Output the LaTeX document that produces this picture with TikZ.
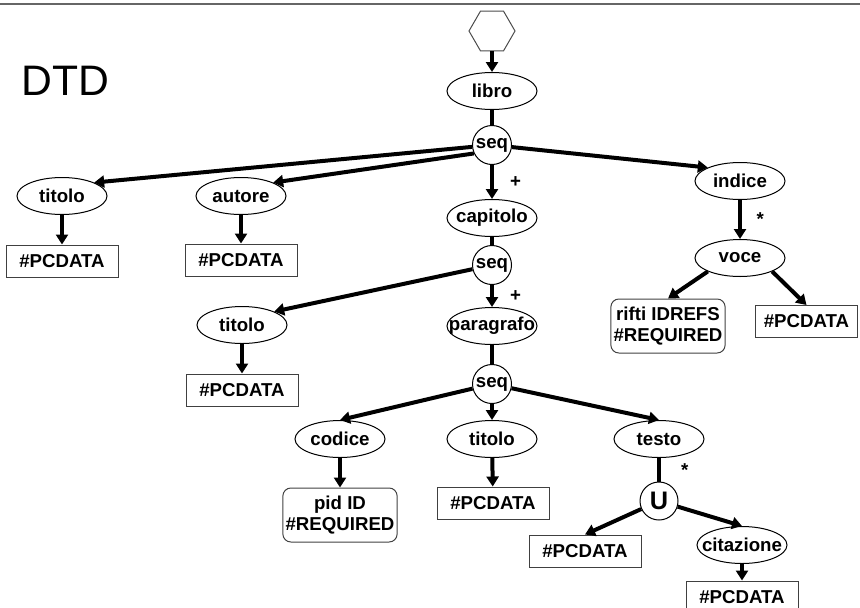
\documentclass[tikz,border=0pt]{standalone}
\usepackage{fontspec}
\setmainfont{Liberation Sans}
\usetikzlibrary{shapes,arrows.meta}

\begin{document}
\begin{tikzpicture}[x=0.75pt,y=-0.75pt,
  nfont/.style={font=\bfseries\fontsize{14}{16.3}\selectfont},
  elem/.style={nfont, ellipse, draw, line width=0.75pt, minimum width=67.5pt, minimum height=27.75pt, inner xsep=-8.5pt, inner ysep=0pt},
  cnt/.style={nfont, circle, draw, line width=0.75pt, minimum size=29.25pt, inner sep=0pt},
  alt/.style={cnt, font=\bfseries\fontsize{19}{22}\selectfont, minimum size=28.5pt},
  leaf/.style={nfont, rectangle, draw=black!75, line width=0.75pt, minimum width=84pt, minimum height=24pt},
  attr/.style={leaf, rounded corners=6pt, align=center, minimum width=85pt, minimum height=40.5pt, inner xsep=2pt},
  root/.style={regular polygon, regular polygon sides=6, draw=black!70, line width=0.75pt, minimum size=34.5pt, inner sep=0pt},
  arr/.style={-{Triangle[length=7.5pt,width=9pt]}, line width=3pt},
  ln/.style={line width=3pt},
  pm/.style={nfont, inner sep=0pt}]
\useasboundingbox (0,0) rectangle (860,607);
\draw[black!60, line width=1pt] (0,4) -- (860,4);
\node[anchor=base west, font=\fontsize{32}{36}\selectfont] (title) at (17,95) {DTD};

% nodes
\node[root] (doc) at (492,31) {};
\node[elem] (libro) at (492,91) {libro};
\node[cnt] (seqA) at (492,145) {seq};
\node[elem] (titoloA) at (62,196) {titolo};
\node[elem] (autore) at (241,196) {autore};
\node[elem] (capitolo) at (492,218) {capitolo};
\node[elem] (indice) at (740,181) {indice};
\node[leaf] (pcTitoloA) at (62,261) {\#PCDATA};
\node[leaf] (pcAutore) at (241,260) {\#PCDATA};
\node[cnt] (seqB) at (492,265) {seq};
\node[elem] (voce) at (740,258) {voce};
\node[attr] (rifti) at (668,326) {rifti IDREFS\\\#REQUIRED};
\node[leaf, minimum width=77pt] (pcVoce) at (806.5,321.5) {\#PCDATA};
\node[elem] (titoloB) at (242,325) {titolo};
\node[elem] (paragrafo) at (492,326) {paragrafo};
\node[leaf] (pcTitoloB) at (242,390) {\#PCDATA};
\node[cnt] (seqC) at (492,384) {seq};
\node[elem] (codice) at (340,439) {codice};
\node[elem] (titoloC) at (492,439) {titolo};
\node[elem] (testo) at (659,439) {testo};
\node[attr] (pid) at (340,515) {pid ID\\\#REQUIRED};
\node[leaf] (pcTitoloC) at (493,503) {\#PCDATA};
\node[alt] (union) at (659,501) {U};
\node[leaf] (pcTesto) at (585,551) {\#PCDATA};
\node[elem] (citazione) at (742,545) {citazione};
\node[leaf] (pcCitazione) at (742,597) {\#PCDATA};

% edges
\draw[arr] (doc) -- (libro);
\draw[ln] (libro) -- (seqA);
\draw[arr] (seqA) -- (titoloA.north east);
\draw[arr] (seqA.205) -- (autore.north east);
\draw[arr] (seqA) -- node[pm, right=12pt] {+} (capitolo);
\draw[arr] (seqA) -- (indice.north west);
\draw[arr] (titoloA) -- (pcTitoloA);
\draw[arr] (autore) -- (pcAutore);
\draw[arr] (indice) -- node[pm, right=11pt] {*} (voce);
\draw[arr] (voce.south west) -- (rifti.north);
\draw[arr] (voce.south east) -- (pcVoce.north);
\draw[ln] (capitolo) -- (seqB);
\draw[arr] (seqB) -- (titoloB.north east);
\draw[arr] (seqB) -- node[pm, right=12pt] {+} (paragrafo);
\draw[arr] (titoloB) -- (pcTitoloB);
\draw[ln] (paragrafo) -- (seqC);
\draw[arr] (seqC) -- (codice.north);
\draw[arr] (seqC) -- (titoloC);
\draw[arr] (seqC) -- (testo.north);
\draw[arr] (codice) -- (pid);
\draw[arr] (titoloC) -- (pcTitoloC);
\draw[ln] (testo) -- node[pm, right=15pt] {*} (union);
\draw[arr] (union) -- (pcTesto.north);
\draw[arr] (union) -- (citazione.north);
\draw[arr] (citazione) -- (pcCitazione);
\end{tikzpicture}
\end{document}
